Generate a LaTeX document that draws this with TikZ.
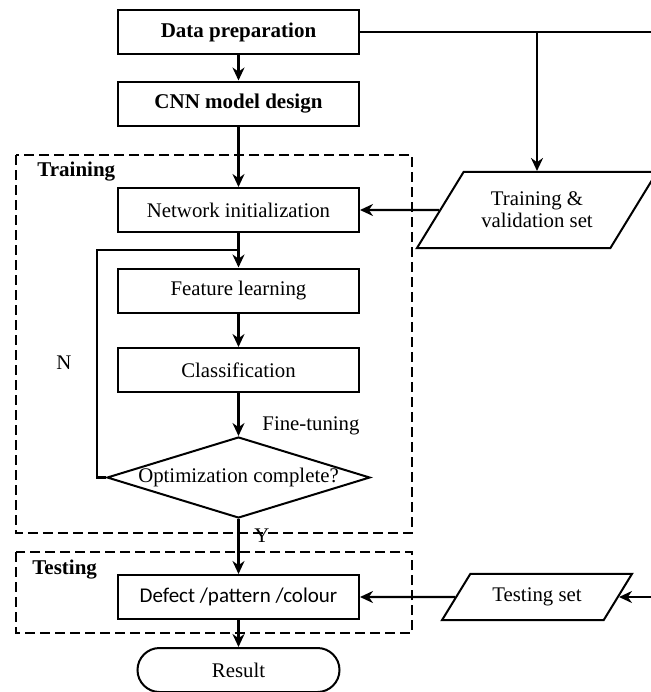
\documentclass[tikz,border=0pt]{standalone}
\usepackage{fontspec}
\setmainfont{Liberation Serif}
\newfontfamily\carlito{Carlito}
\usetikzlibrary{shapes.geometric,arrows.meta}

\begin{document}
\begin{tikzpicture}[x=0.5pt,y=-0.5pt,font=\fontsize{10.4}{12.5}\selectfont,
  box/.style={draw,line width=1pt,minimum width=120.5pt,minimum height=22pt,inner sep=0pt},
  dec/.style={draw,diamond,line width=1pt,aspect=3.25,inner sep=0pt,minimum width=131.5pt,minimum height=40.5pt},
  io/.style={draw,trapezium,trapezium left angle=58.5,trapezium right angle=121.5,trapezium stretches body,line width=1pt,inner xsep=0pt,align=center,font=\fontsize{10.4}{11}\selectfont},
  term/.style={draw,line width=1pt,rounded corners=11pt,minimum width=101pt,minimum height=22pt},
  group/.style={draw,dash pattern=on 5pt off 2.5pt,line width=0.8pt},
  arr/.style={line width=1.1pt,-{Stealth[length=6.5pt,width=6pt]}},
  lbl/.style={font=\fontsize{10.5}{12}\selectfont\bfseries}]
  \clip (0,0) rectangle (651,692);

  % Grupy
  \draw[group] (16,155) rectangle (412,533);
  \draw[group] (16,552) rectangle (412,633);
  \node[lbl,anchor=west,inner sep=0pt] (trl) at (37,172) {Training};
  \node[lbl,anchor=west,inner sep=0pt] (tel) at (32,570) {Testing};

  % Bloki
  \node[box,lbl] (dp) at (238.5,32) {Data preparation};
  \node[box,lbl] (cnn) at (238.5,103.5) {CNN model design};
  \node[box] (net) at (238.5,210) {Network initialization};
  \node[box] (feat) at (238.5,290.5) {Feature learning};
  \node[box] (cls) at (238.5,370) {Classification};
  \node[dec] (opt) at (238.5,477.5) {Optimization complete?};
  \node[box,font=\carlito\fontsize{10.5}{12}\selectfont] (def) at (238.5,597) {Defect /pattern /colour};
  \node[term] (res) at (238.5,670) {Result};
  \node[io,minimum width=120pt,inner ysep=10pt] (tv) at (537,210) {Training \&\\validation set};
  \node[io,minimum width=95pt,inner ysep=7pt] (ts) at (537,597) {Testing set};

  % Etykiety
  \node (n) at (64,363) {N};
  \node (y) at (262,536) {Y};
  \node (ft) at (311,426) {Fine-tuning};

  % Strzałki
  \coordinate (re) at (665,32);
  \coordinate (lp) at (97,250);
  \draw[arr] (dp) -- (cnn);
  \draw[arr] (cnn) -- (net);
  \draw[arr] (net) -- (feat);
  \draw[arr] (feat) -- (cls);
  \draw[arr] (cls) -- (opt);
  \draw[arr] (opt) -- (def);
  \draw[arr] (def) -- (res);
  \draw[arr] (dp.east) -- (re) |- (ts);
  \draw[arr] (dp.east -| tv) -- (tv);
  \draw[arr] (tv) -- (net);
  \draw[arr] (ts) -- (def);
  \draw[line width=1.1pt,line join=miter] (opt.west) -| (lp) -- (net.south |- lp);
\end{tikzpicture}
\end{document}
